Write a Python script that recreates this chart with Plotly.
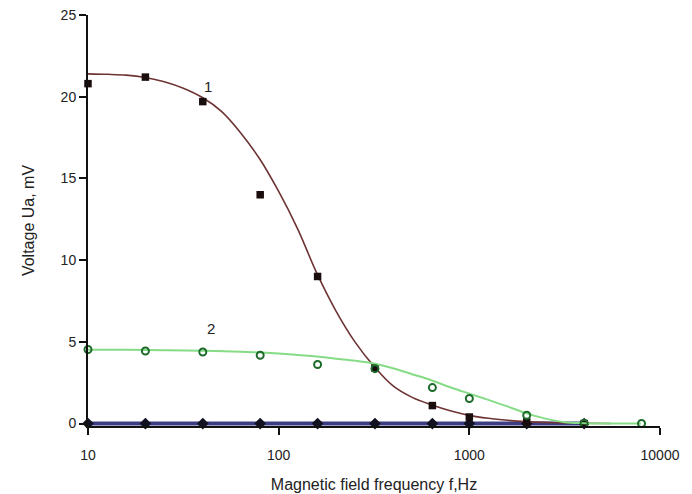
import plotly.graph_objects as go

# ---- data ----
freq = [10, 20, 40, 80, 160, 320, 640, 1000, 2000, 4000, 8000]
series1 = [20.8, 21.2, 19.7, 14.0, 9.0, 3.4, 1.1, 0.4, 0.1, 0.0]          # curve 1 points
series2 = [4.53, 4.44, 4.38, 4.18, 3.61, 3.36, 2.2, 1.53, 0.51, 0.0, 0.0]  # curve 2 points
series3 = [0, 0, 0, 0, 0, 0, 0, 0, 0, 0]                                  # baseline points

# fitted curves at 0.1-decade steps (log10 of frequency)
fit1_logf = [1.0, 1.1, 1.2, 1.3, 1.4, 1.5, 1.6, 1.7, 1.8, 1.9, 2.0, 2.1, 2.2, 2.3,
             2.4, 2.5, 2.6, 2.7, 2.8, 2.9, 3.0, 3.1, 3.2, 3.3, 3.4, 3.5, 3.6, 3.74]
fit1_v = [21.4, 21.37, 21.32, 21.18, 20.92, 20.52, 19.95, 19.1, 17.8, 16.2, 14.2, 11.9,
          9.2, 6.9, 5.0, 3.5, 2.3, 1.6, 1.15, 0.78, 0.5, 0.32, 0.2, 0.12, 0.07, 0.04,
          0.02, 0.0]

fit2_logf = [1.0, 1.2, 1.4, 1.6, 1.8, 1.9, 2.0, 2.1, 2.2, 2.3, 2.4, 2.5, 2.6, 2.7,
             2.8, 2.9, 3.0, 3.1, 3.2, 3.3, 3.4, 3.5, 3.6, 3.7, 3.9]
fit2_v = [4.52, 4.51, 4.49, 4.46, 4.40, 4.35, 4.28, 4.2, 4.1, 3.97, 3.85, 3.68, 3.38,
          3.02, 2.65, 2.22, 1.83, 1.45, 1.05, 0.62, 0.3, 0.08, 0.02, 0.0, 0.0]

fit3_f = [10, 4000]
fit3_v = [0, 0]

x_ticks = [10, 100, 1000, 10000]
x_tick_text = ["10", "100", "1000", "10000"]
y_ticks = [0, 5, 10, 15, 20, 25]

fit1_f = [10 ** v for v in fit1_logf]
fit2_f = [10 ** v for v in fit2_logf]

fig = go.Figure()

# baseline (thick blue line) with diamonds
fig.add_trace(go.Scatter(x=fit3_f, y=fit3_v, mode="lines",
                         line=dict(color="#3c3c82", width=4), hoverinfo="skip"))
fig.add_trace(go.Scatter(x=freq[:len(series3)], y=series3, mode="markers",
                         marker=dict(symbol="diamond", size=9, color="#111122"),
                         cliponaxis=False))

# curve 1
fig.add_trace(go.Scatter(x=fit1_f, y=fit1_v, mode="lines", line_shape="spline",
                         line=dict(color="#6e3434", width=1.6)))
fig.add_trace(go.Scatter(x=freq[:len(series1)], y=series1, mode="markers",
                         marker=dict(symbol="square", size=7.5, color="#1a0d0d"),
                         cliponaxis=False))

# curve 2
fig.add_trace(go.Scatter(x=fit2_f, y=fit2_v, mode="lines", line_shape="spline",
                         line=dict(color="#86dc86", width=2)))
fig.add_trace(go.Scatter(x=freq[:len(series2)], y=series2, mode="markers",
                         marker=dict(symbol="circle-open", size=7,
                                     color="#1d6a2a", line=dict(width=2)),
                         cliponaxis=False))

fig.add_annotation(x=1.63, y=20.6, text="1", showarrow=False,
                   font=dict(size=15, color="#222"))
fig.add_annotation(x=1.645, y=5.8, text="2", showarrow=False,
                   font=dict(size=15, color="#222"))

# page body has an 8px margin, so the figure is sized to fit the window
fig.update_layout(
    width=684, height=486,
    margin=dict(l=80, r=32, t=7, b=68),
    paper_bgcolor="white", plot_bgcolor="white",
    showlegend=False,
    font=dict(family="Liberation Sans, Arial, sans-serif", size=14, color="#222"),
)
fig.update_xaxes(
    type="log", range=[1, 4], automargin=False,
    tickvals=x_ticks, ticktext=x_tick_text,
    showline=True, linecolor="#111", linewidth=2,
    ticks="outside", ticklen=7, tickcolor="#111", tickwidth=1.5,
    ticklabelstandoff=8, ticklabeloverflow="allow",
    showgrid=False, zeroline=False,
    title=dict(text="Magnetic field frequency f,Hz", font=dict(size=16), standoff=17),
)
fig.update_yaxes(
    range=[-0.15, 25], automargin=False,
    tickvals=y_ticks,
    showline=True, linecolor="#111", linewidth=2,
    ticks="outside", ticklen=7, tickcolor="#111", tickwidth=1.5,
    ticklabeloverflow="allow",
    showgrid=False, zeroline=False,
    title=dict(text="Voltage Ua, mV", font=dict(size=16), standoff=22),
)

fig.write_html("out.html")
